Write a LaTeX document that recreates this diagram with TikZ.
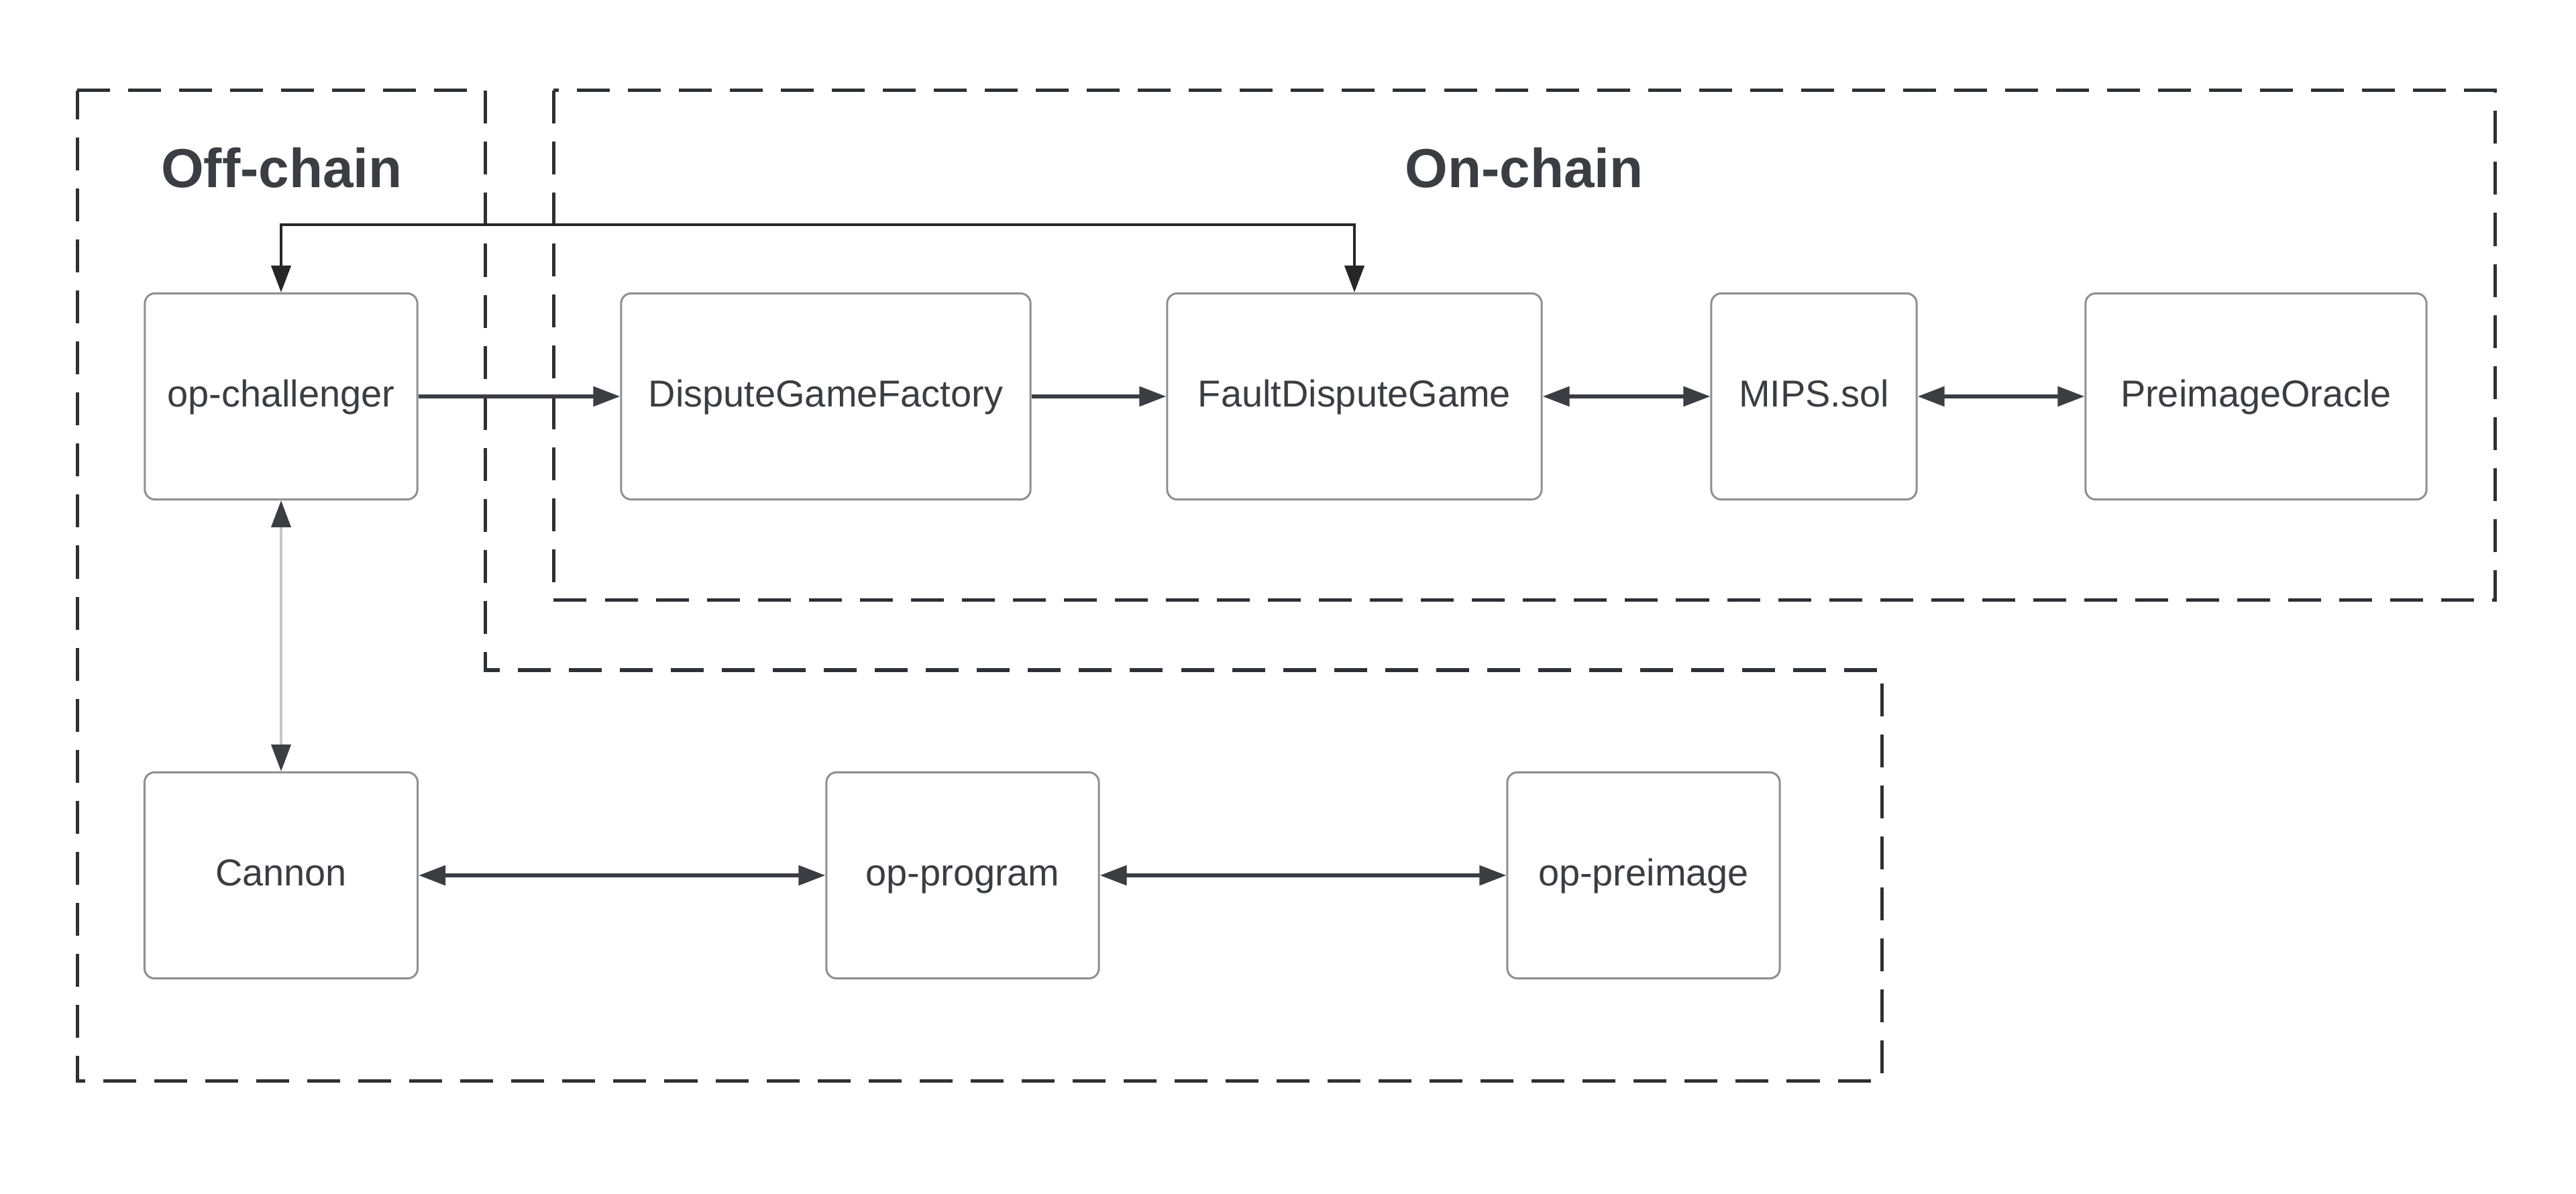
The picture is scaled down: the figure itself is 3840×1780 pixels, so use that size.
\documentclass[tikz,border=0pt]{standalone}
\usepackage{fontspec}
\setmainfont{Liberation Sans}
\usetikzlibrary{arrows.meta}
\definecolor{ink}{HTML}{3A3D42}
\definecolor{txt}{HTML}{3A3D42}
\definecolor{boxline}{HTML}{8E8F92}
\definecolor{frame}{HTML}{2E3035}
\definecolor{lightline}{HTML}{C6C7C9}
\tikzset{
  blk/.style={draw=boxline, line width=0.03cm, rounded corners=0.15cm, fill=white,
    minimum height=3.07cm, text=txt, font=\fontsize{15.9}{19}\selectfont, inner sep=0pt,
    text height=1.0em, text depth=0.14em},
  grp/.style={draw=frame, line width=0.05cm, dash pattern=on 0.49cm off 0.27cm},
  ttl/.style={text=txt, font=\fontsize{23.3}{28}\selectfont\bfseries, anchor=base, inner sep=0pt},
  uni/.style={draw=ink, line width=0.055cm, -{Triangle[length=0.40cm, width=0.29cm]}},
  bi/.style={draw=ink, line width=0.055cm, {Triangle[length=0.40cm, width=0.29cm]}-{Triangle[length=0.40cm, width=0.29cm]}},
  bigray/.style={draw=lightline, line width=0.04cm, {Triangle[length=0.40cm, width=0.29cm, color=ink]}-{Triangle[length=0.40cm, width=0.29cm, color=ink]}},
}
\begin{document}
\begin{tikzpicture}[x=0.01cm, y=-0.01cm]
\useasboundingbox (0,0) rectangle (3840,1780);
% group frames
\draw[grp] (115,135) -- (723,135) -- (723,999) -- (2805,999) -- (2805,1611) -- (115,1611) -- cycle;
\draw[grp] (825,135) rectangle (3719,895);
% titles
\node[ttl] (offt) at (420,280) {Off-chain};
\node[ttl] (ont) at (2272,280) {On-chain};
% boxes
\node[blk, minimum width=4.06cm] (chal) at (419,591) {op-challenger};
\node[blk, minimum width=6.10cm] (dgf) at (1231,591) {DisputeGameFactory};
\node[blk, minimum width=5.58cm] (fdg) at (2019,591) {FaultDisputeGame};
\node[blk, minimum width=3.06cm] (mips) at (2704,591) {MIPS.sol};
\node[blk, minimum width=5.08cm] (po) at (3363,591) {PreimageOracle};
\node[blk, minimum width=4.07cm] (cannon) at (419,1305) {Cannon};
\node[blk, minimum width=4.06cm] (prog) at (1435,1305) {op-program};
\node[blk, minimum width=4.06cm] (pre) at (2450,1305) {op-preimage};
% connectors
\coordinate (fb) at (0,335);
\draw[uni] (chal.east) -- (dgf.west);
\draw[uni] (dgf.east) -- (fdg.west);
\draw[bi] (fdg.east) -- (mips.west);
\draw[bi] (mips.east) -- (po.west);
\draw[bi, draw=black!85, line width=0.045cm] (chal.north) |- (fdg.north |- fb) -- (fdg.north);
\draw[bigray] (chal.south) -- (cannon.north);
\draw[bi] (cannon.east) -- (prog.west);
\draw[bi] (prog.east) -- (pre.west);
\end{tikzpicture}
\end{document}
